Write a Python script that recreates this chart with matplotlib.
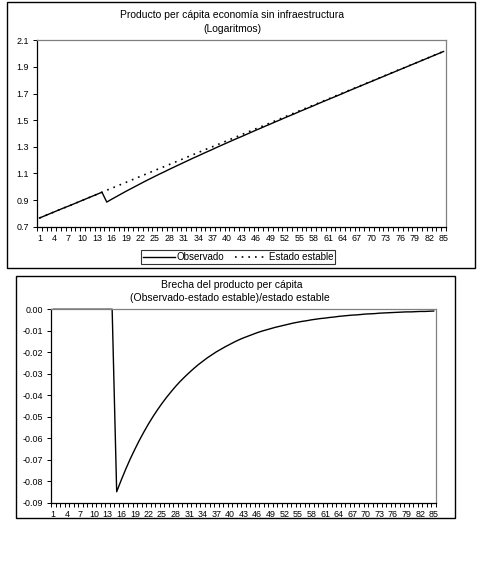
import numpy as np
import matplotlib
matplotlib.use("Agg")
import matplotlib.pyplot as plt
from matplotlib.patches import Rectangle
from matplotlib.ticker import FuncFormatter

plt.rcParams['font.family'] = ['Liberation Sans', 'DejaVu Sans']
plt.rcParams['axes.unicode_minus'] = False

periodos = list(range(1, 86))

# estado estable (logaritmos)
estado_estable = [
    0.765, 0.780, 0.795, 0.810, 0.825, 0.840, 0.854, 0.869, 0.884, 0.899,
    0.914, 0.929, 0.944, 0.959, 0.974, 0.989, 1.003, 1.018, 1.033, 1.048,
    1.063, 1.078, 1.093, 1.108, 1.123, 1.138, 1.152, 1.167, 1.182, 1.197,
    1.212, 1.227, 1.242, 1.257, 1.272, 1.287, 1.301, 1.316, 1.331, 1.346,
    1.361, 1.376, 1.391, 1.406, 1.421, 1.436, 1.450, 1.465, 1.480, 1.495,
    1.510, 1.525, 1.540, 1.555, 1.570, 1.585, 1.599, 1.614, 1.629, 1.644,
    1.659, 1.674, 1.689, 1.704, 1.719, 1.734, 1.748, 1.763, 1.778, 1.793,
    1.808, 1.823, 1.838, 1.853, 1.868, 1.883, 1.897, 1.912, 1.927, 1.942,
    1.957, 1.972, 1.987, 2.002, 2.017]

# observado (logaritmos)
observado = [
    0.765, 0.780, 0.795, 0.810, 0.825, 0.840, 0.854, 0.869, 0.884, 0.899,
    0.914, 0.929, 0.944, 0.959, 0.885, 0.906, 0.926, 0.946, 0.966, 0.985,
    1.004, 1.023, 1.042, 1.060, 1.078, 1.096, 1.113, 1.131, 1.148, 1.165,
    1.182, 1.199, 1.216, 1.232, 1.249, 1.265, 1.281, 1.298, 1.314, 1.330,
    1.346, 1.362, 1.377, 1.393, 1.409, 1.425, 1.440, 1.456, 1.471, 1.487,
    1.502, 1.518, 1.533, 1.548, 1.564, 1.579, 1.594, 1.609, 1.625, 1.640,
    1.655, 1.670, 1.685, 1.700, 1.716, 1.731, 1.746, 1.761, 1.776, 1.791,
    1.806, 1.821, 1.836, 1.851, 1.866, 1.881, 1.896, 1.911, 1.926, 1.941,
    1.956, 1.971, 1.986, 2.001, 2.016]

# brecha (observado-estado estable)/estado estable
brecha = [
    0.0, 0.0, 0.0, 0.0, 0.0, 0.0, 0.0, 0.0, 0.0, 0.0,
    0.0, 0.0, 0.0, 0.0, -0.0849, -0.0795, -0.0744, -0.0696, -0.0652, -0.0610,
    -0.0571, -0.0534, -0.0500, -0.0468, -0.0438, -0.0410, -0.0384, -0.0359, -0.0336, -0.0315,
    -0.0295, -0.0276, -0.0258, -0.0242, -0.0226, -0.0212, -0.0198, -0.0186, -0.0174, -0.0163,
    -0.0152, -0.0142, -0.0133, -0.0125, -0.0117, -0.0109, -0.0102, -0.0096, -0.0090, -0.0084,
    -0.0079, -0.0074, -0.0069, -0.0064, -0.0060, -0.0056, -0.0053, -0.0049, -0.0046, -0.0043,
    -0.0041, -0.0038, -0.0036, -0.0033, -0.0031, -0.0029, -0.0027, -0.0026, -0.0024, -0.0022,
    -0.0021, -0.0020, -0.0018, -0.0017, -0.0016, -0.0015, -0.0014, -0.0013, -0.0012, -0.0012,
    -0.0011, -0.0010, -0.0010, -0.0009, -0.0008]

ticks_top = [0.7, 0.9, 1.1, 1.3, 1.5, 1.7, 1.9, 2.1]
ticks_bottom = [-0.09, -0.08, -0.07, -0.06, -0.05, -0.04, -0.03, -0.02, -0.01, 0.0]

W, H = 479, 569
FS_TITLE = 7.5
FS_TICK = 6.4
FS_LEG = 7.0


def fig_rect(x0, y0, x1, y1):
    return [x0 / W, 1 - y1 / H, (x1 - x0) / W, (y1 - y0) / H]


def style_axes(ax, yticks, fmt):
    ax.set_xlim(0.5, 85.5)
    ax.set_xticks(np.arange(0.5, 86.5, 1.0))
    ax.set_xticklabels([])
    ax.set_xticks(periodos[::3], minor=True)
    ax.set_xticklabels([str(p) for p in periodos[::3]], minor=True)
    ax.tick_params(axis='x', which='major', direction='out', length=3, width=0.7, color='black')
    ax.tick_params(axis='x', which='minor', length=0, pad=5, labelsize=FS_TICK)
    ax.set_yticks(yticks)
    ax.yaxis.set_major_formatter(FuncFormatter(lambda v, p: fmt.format(v) if abs(v) > 1e-9 else fmt.format(0.0)))
    ax.tick_params(axis='y', direction='out', length=3, width=0.7, pad=3, labelsize=FS_TICK)
    for s in ['top', 'right']:
        ax.spines[s].set_color('#808080')
        ax.spines[s].set_linewidth(0.9)
    for s in ['left', 'bottom']:
        ax.spines[s].set_color('black')
        ax.spines[s].set_linewidth(0.9)


fig = plt.figure(figsize=(W / 100, H / 100), dpi=100)

# marcos de los graficos
for x0, y0, x1, y1 in [(7, 2, 475, 268), (16, 276, 455, 518)]:
    fig.patches.append(Rectangle((x0 / W, 1 - y1 / H), (x1 - x0) / W, (y1 - y0) / H,
                                 transform=fig.transFigure, fill=False,
                                 edgecolor='black', linewidth=1.0))

# grafico 1
ax1 = fig.add_axes(fig_rect(37, 40.3, 446, 226.7))
ax1.plot(periodos, observado, color='black', lw=1.0, label='Observado')
ax1.plot(periodos, estado_estable, color='black', lw=1.2, linestyle=(0, (1, 3)),
         label='Estado estable')
ax1.set_ylim(0.7, 2.1)
style_axes(ax1, ticks_top, '{:.1f}')
fig.text(232 / W, 1 - 15 / H, 'Producto per cápita economía sin infraestructura',
         ha='center', va='center', fontsize=FS_TITLE)
fig.text(232 / W, 1 - 29 / H, '(Logaritmos)', ha='center', va='center', fontsize=FS_TITLE)

leg = fig.legend(loc='center', bbox_to_anchor=(238 / W, 1 - 257 / H), ncol=2,
                 fontsize=FS_LEG, frameon=True, fancybox=False, handlelength=3.3,
                 handletextpad=0.2, columnspacing=1.1, borderpad=0.2,
                 borderaxespad=0)
leg.get_frame().set_edgecolor('black')
leg.get_frame().set_linewidth(0.8)

# grafico 2
ax2 = fig.add_axes(fig_rect(51, 309.3, 436, 502.7))
ax2.plot(periodos, brecha, color='black', lw=1.0, clip_on=False)
ax2.set_ylim(-0.09, 0.0)
style_axes(ax2, ticks_bottom, '{:.2f}')
fig.text(232 / W, 1 - 285 / H, 'Brecha del producto per cápita',
         ha='center', va='center', fontsize=FS_TITLE)
fig.text(230 / W, 1 - 298 / H, '(Observado-estado estable)/estado estable',
         ha='center', va='center', fontsize=FS_TITLE)

fig.savefig('out.png', dpi=100)
